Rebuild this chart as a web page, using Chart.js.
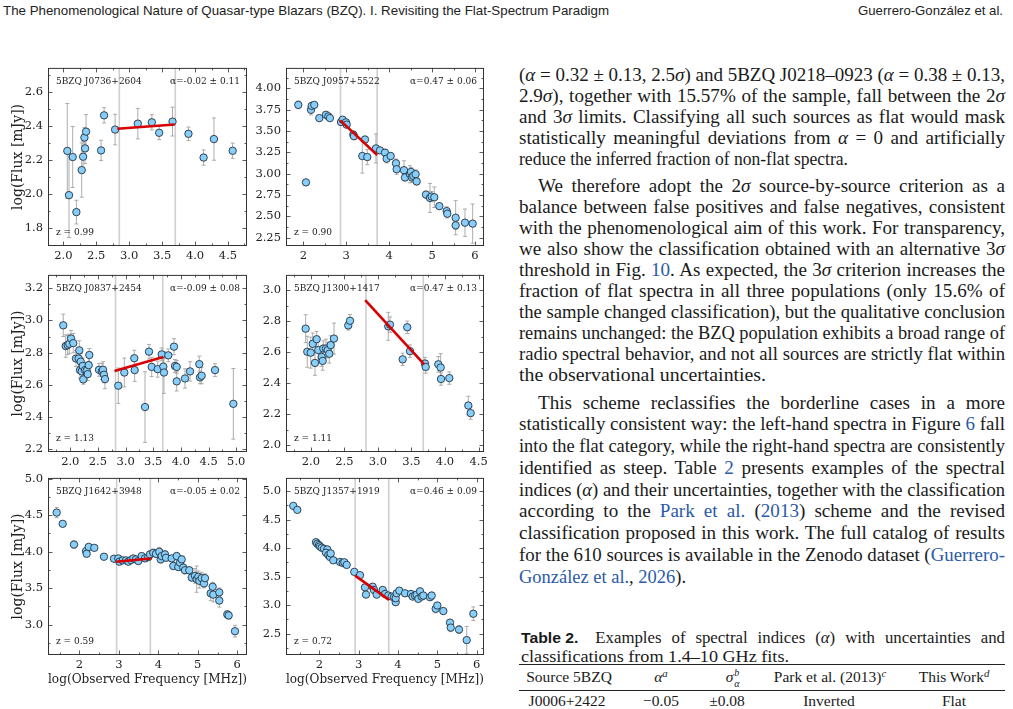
<!DOCTYPE html>
<html><head><meta charset="utf-8">
<script src="https://cdn.jsdelivr.net/npm/chart.js@4.4.1/dist/chart.umd.min.js"></script>
<style>
html,body{margin:0;padding:0;background:#fff;}
body{width:1013px;height:709px;position:relative;overflow:hidden;}
canvas{position:absolute;}
.hdr{position:absolute;font-family:"Liberation Sans",Arial,sans-serif;font-size:13px;color:#222;white-space:nowrap;line-height:16px;}
.tx{position:absolute;font-family:"Liberation Serif",serif;font-size:18px;color:#1a1a1a;white-space:nowrap;line-height:21px;}
.lk{color:#2a5aa8;}
.tb{position:absolute;font-family:"Liberation Serif",serif;font-size:15.5px;color:#1a1a1a;white-space:nowrap;line-height:18px;transform:translateX(-50%);}
.rule{position:absolute;left:519px;width:486px;background:#222;}
sup{font-size:70%;line-height:0;vertical-align:0.5em;}
.sans{font-family:"Liberation Sans",Arial,sans-serif;font-weight:bold;font-size:15px;word-spacing:0;}
</style></head><body>

<div class="hdr" data-w="606" style="left:3px;top:3px;">The Phenomenological Nature of Quasar-type Blazars (BZQ). I. Revisiting the Flat-Spectrum Paradigm</div>
<div class="hdr" data-w="145" style="left:858px;top:3px;">Guerrero-González et al.</div>

<canvas id="c1"></canvas><canvas id="c2"></canvas>
<canvas id="c3"></canvas><canvas id="c4"></canvas>
<canvas id="c5"></canvas><canvas id="c6"></canvas>

<div class="tx" data-w="486" data-j="1" data-s="1.06" style="left:519px;top:64.5px;">(<i>α</i> = 0.32 ± 0.13, 2.5<i>σ</i>) and 5BZQ J0218–0923 (<i>α</i> = 0.38 ± 0.13,</div>
<div class="tx" data-w="486" data-j="1" data-s="1.06" style="left:519px;top:85.5px;">2.9<i>σ</i>), together with 15.57% of the sample, fall between the 2<i>σ</i></div>
<div class="tx" data-w="486" data-j="1" data-s="1.06" style="left:519px;top:106.5px;">and 3<i>σ</i> limits. Classifying all such sources as flat would mask</div>
<div class="tx" data-w="486" data-j="1" data-s="1.06" style="left:519px;top:127.5px;">statistically meaningful deviations from <i>α</i> = 0 and artificially</div>
<div class="tx" data-w="329" style="left:519px;top:148.5px;">reduce the inferred fraction of non-flat spectra.</div>

<div class="tx" data-w="467" data-j="1" data-s="1.06" style="left:538px;top:175.5px;">We therefore adopt the 2<i>σ</i> source-by-source criterion as a</div>
<div class="tx" data-w="486" data-j="1" data-s="1.06" style="left:519px;top:196.5px;">balance between false positives and false negatives, consistent</div>
<div class="tx" data-w="486" data-j="1" data-s="1.06" style="left:519px;top:217.5px;">with the phenomenological aim of this work. For transparency,</div>
<div class="tx" data-w="486" data-j="1" data-s="1.06" style="left:519px;top:238.5px;">we also show the classification obtained with an alternative 3<i>σ</i></div>
<div class="tx" data-w="486" data-j="1" data-s="1.06" style="left:519px;top:259.5px;">threshold in Fig. <span class="lk">10</span>. As expected, the 3<i>σ</i> criterion increases the</div>
<div class="tx" data-w="486" data-j="1" data-s="1.06" style="left:519px;top:280.5px;">fraction of flat spectra in all three populations (only 15.6% of</div>
<div class="tx" data-w="486" data-j="1" data-s="1.06" style="left:519px;top:301.5px;">the sample changed classification), but the qualitative conclusion</div>
<div class="tx" data-w="486" data-j="1" data-s="1.06" style="left:519px;top:322.5px;">remains unchanged: the BZQ population exhibits a broad range of</div>
<div class="tx" data-w="486" data-j="1" data-s="1.06" style="left:519px;top:343.5px;">radio spectral behavior, and not all sources are strictly flat within</div>
<div class="tx" data-w="247" style="left:519px;top:364.5px;">the observational uncertainties.</div>

<div class="tx" data-w="467" data-j="1" data-s="1.06" style="left:538px;top:392.5px;">This scheme reclassifies the borderline cases in a more</div>
<div class="tx" data-w="486" data-j="1" data-s="1.06" style="left:519px;top:414.25px;">statistically consistent way: the left-hand spectra in Figure <span class="lk">6</span> fall</div>
<div class="tx" data-w="486" data-j="1" data-s="1.06" style="left:519px;top:436px;">into the flat category, while the right-hand spectra are consistently</div>
<div class="tx" data-w="486" data-j="1" data-s="1.06" style="left:519px;top:457.75px;">identified as steep. Table <span class="lk">2</span> presents examples of the spectral</div>
<div class="tx" data-w="486" data-j="1" data-s="1.06" style="left:519px;top:479.5px;">indices (<i>α</i>) and their uncertainties, together with the classification</div>
<div class="tx" data-w="486" data-j="1" data-s="1.06" style="left:519px;top:501.25px;">according to the <span class="lk">Park et al.</span> (<span class="lk">2013</span>) scheme and the revised</div>
<div class="tx" data-w="486" data-j="1" data-s="1.06" style="left:519px;top:523px;">classification proposed in this work. The full catalog of results</div>
<div class="tx" data-w="486" data-j="1" data-s="1.06" style="left:519px;top:544.75px;">for the 610 sources is available in the Zenodo dataset (<span class="lk">Guerrero-</span></div>
<div class="tx" data-w="167" style="left:519px;top:566.5px;"><span class="lk">González et al.</span>, <span class="lk">2026</span>).</div>

<div class="tx" data-w="484" data-j="1" data-s="1.05" style="left:521px;top:627px;font-size:16px;"><span class="sans">Table 2.</span><span style="display:inline-block;width:16px;"></span>Examples of spectral indices (<i>α</i>) with uncertainties and</div>
<div class="tx" data-w="268" style="left:521px;top:646px;font-size:16px;">classifications from 1.4–10 GHz fits.</div>
<div class="rule" style="top:664px;height:1.3px;"></div>
<div class="tb" style="left:569px;top:668px;">Source 5BZQ</div>
<div class="tb" style="left:661px;top:668px;"><i>α</i><sup><i>a</i></sup></div>
<div class="tb" style="left:733px;top:668px;"><i>σ</i><span style="display:inline-block;position:relative;width:7px;height:10px;"><i style="position:absolute;left:1px;top:-8px;font-size:10px;">b</i><i style="position:absolute;left:1px;top:3px;font-size:10px;">α</i></span></div>
<div class="tb" style="left:830px;top:668px;">Park et al. (2013)<sup><i>c</i></sup></div>
<div class="tb" style="left:954px;top:668px;">This Work<sup><i>d</i></sup></div>
<div class="rule" style="top:689.5px;height:1px;"></div>
<div class="tb" style="left:567px;top:692px;">J0006+2422</div>
<div class="tb" style="left:661px;top:692px;">−0.05</div>
<div class="tb" style="left:727px;top:692px;">±0.08</div>
<div class="tb" style="left:829px;top:692px;">Inverted</div>
<div class="tb" style="left:954px;top:692px;">Flat</div>

<script>
// ---------------- DATA ----------------
// Panel 1: 5BZQ J0736+2604
const freq1 = [2.06, 2.086, 2.142, 2.198, 2.279, 2.30, 2.32, 2.33, 2.345, 2.573, 2.619, 2.786, 3.131, 3.344, 3.455, 3.658, 3.90, 4.13, 4.287, 4.571];
const flux1 = [2.254, 1.993, 2.218, 1.893, 2.141, 2.22, 2.333, 2.269, 2.368, 2.257, 2.464, 2.38, 2.415, 2.423, 2.361, 2.427, 2.355, 2.215, 2.324, 2.255];
const err1  = [0.28, 0.25, 0.18, 0.07, 0.16, 0.09, 0.06, 0.09, 0.10, 0.06, 0.045, 0.09, 0.09, 0.045, 0.04, 0.085, 0.04, 0.045, 0.125, 0.045];
const fitX1 = [2.82, 3.69], fitY1 = [2.385, 2.41];
const band1 = [2.85, 3.70];

// Panel 2: 5BZQ J0957+5522
const freq2 = [1.883, 2.062, 2.179, 2.194, 2.256, 2.373, 2.528, 2.583, 2.62, 2.878, 2.917, 2.994, 3.01, 3.165, 3.18, 3.437, 3.375, 3.491, 3.693, 3.786, 3.903, 3.942, 4.035, 4.159, 4.175, 4.346, 4.369, 4.485, 4.509, 4.532, 4.563, 4.617, 4.641, 4.858, 4.951, 4.99, 5.052, 5.169, 5.34, 5.355, 5.55, 5.55, 5.767, 5.946];
const flux2 = [3.807, 2.899, 3.749, 3.795, 3.807, 3.652, 3.691, 3.672, 3.652, 3.606, 3.633, 3.602, 3.575, 3.459, 3.44, 3.401, 3.208, 3.196, 3.297, 3.274, 3.247, 3.177, 3.208, 3.123, 3.053, 3.042, 2.957, 2.995, 3.022, 2.957, 2.976, 2.995, 2.91, 2.756, 2.717, 2.733, 2.725, 2.621, 2.563, 2.532, 2.485, 2.396, 2.427, 2.416];
const err2  = [0.045, 0.035, 0.06, 0.03, 0.03, 0.03, 0.03, 0.03, 0.03, 0.03, 0.03, 0.03, 0.03, 0.04, 0.04, 0.04, 0.2, 0.09, 0.17, 0.03, 0.04, 0.05, 0.04, 0.05, 0.06, 0.11, 0.04, 0.1, 0.05, 0.06, 0.06, 0.05, 0.04, 0.04, 0.17, 0.06, 0.12, 0.03, 0.05, 0.05, 0.2, 0.05, 0.16, 0.23];
const fitX2 = [2.86, 3.72], fitY2 = [3.625, 3.22];
const band2 = [2.867, 3.721];

// Panel 3: 5BZQ J0837+2454
const freq3 = [1.873, 1.917, 1.953, 1.982, 2.013, 2.054, 2.103, 2.152, 2.163, 2.175, 2.188, 2.206, 2.224, 2.235, 2.266, 2.297, 2.315, 2.333, 2.344, 2.519, 2.573, 2.591, 2.609, 2.627, 2.868, 2.977, 3.164, 3.157, 3.351, 3.423, 3.472, 3.58, 3.653, 3.682, 3.694, 3.772, 3.875, 3.893, 3.924, 3.924, 4.074, 4.165, 4.333, 4.345, 4.375, 4.617, 4.948];
const flux3 = [2.97, 2.841, 2.847, 2.855, 2.888, 2.859, 2.763, 2.763, 2.814, 2.691, 2.744, 2.683, 2.717, 2.633, 2.691, 2.687, 2.666, 2.722, 2.785, 2.693, 2.683, 2.693, 2.662, 2.635, 2.594, 2.676, 2.691, 2.765, 2.461, 2.806, 2.711, 2.697, 2.789, 2.713, 2.676, 2.783, 2.837, 2.717, 2.711, 2.621, 2.639, 2.683, 2.728, 2.646, 2.656, 2.691, 2.481];
const err3  = [0.07, 0.07, 0.06, 0.06, 0.05, 0.06, 0.05, 0.05, 0.06, 0.05, 0.05, 0.05, 0.05, 0.03, 0.05, 0.04, 0.04, 0.05, 0.04, 0.04, 0.05, 0.05, 0.05, 0.06, 0.11, 0.09, 0.07, 0.05, 0.22, 0.045, 0.06, 0.05, 0.04, 0.05, 0.13, 0.04, 0.05, 0.04, 0.04, 0.06, 0.06, 0.06, 0.05, 0.04, 0.05, 0.04, 0.22];
const fitX3 = [2.80, 3.68], fitY3 = [2.686, 2.772];
const band3 = [2.818, 3.672];

// Panel 4: 5BZQ J1300+1417
const freq4 = [1.923, 1.947, 1.998, 2.028, 2.062, 2.087, 2.111, 2.162, 2.177, 2.186, 2.226, 2.251, 2.275, 2.296, 2.345, 2.558, 2.584, 3.154, 3.18, 3.369, 3.437, 3.478, 3.701, 3.712, 3.9, 3.935, 3.94, 4.064, 4.347, 4.382];
const flux4 = [2.751, 2.602, 2.596, 2.653, 2.53, 2.683, 2.613, 2.568, 2.543, 2.623, 2.623, 2.613, 2.589, 2.645, 2.687, 2.772, 2.802, 2.766, 2.777, 2.553, 2.76, 2.606, 2.526, 2.504, 2.521, 2.5, 2.426, 2.432, 2.255, 2.206];
const err4  = [0.09, 0.1, 0.1, 0.07, 0.08, 0.05, 0.07, 0.06, 0.06, 0.05, 0.06, 0.05, 0.06, 0.06, 0.1, 0.03, 0.04, 0.09, 0.05, 0.04, 0.04, 0.04, 0.04, 0.04, 0.05, 0.09, 0.04, 0.04, 0.06, 0.04];
const fitX4 = [2.81, 3.69], fitY4 = [2.935, 2.52];
const band4 = [2.822, 3.676];

// Panel 5: 5BZQ J1642+3948
const freq5 = [1.428, 1.58, 1.866, 2.17, 2.187, 2.238, 2.38, 2.625, 2.878, 2.987, 3.013, 3.099, 3.182, 3.241, 3.309, 3.367, 3.435, 3.494, 3.58, 3.663, 3.747, 3.79, 3.873, 3.942, 4.025, 4.06, 4.086, 4.17, 4.195, 4.339, 4.38, 4.466, 4.506, 4.549, 4.592, 4.633, 4.676, 4.785, 4.846, 4.929, 4.972, 5.013, 5.038, 5.099, 5.157, 5.182, 5.327, 5.377, 5.392, 5.544, 5.544, 5.747, 5.782, 5.942];
const flux5 = [4.535, 4.381, 4.097, 4.007, 3.971, 4.065, 4.052, 3.93, 3.903, 3.907, 3.862, 3.88, 3.88, 3.862, 3.885, 3.907, 3.894, 3.871, 3.939, 3.907, 3.925, 3.962, 3.984, 3.97, 3.998, 3.894, 3.939, 3.962, 3.916, 3.907, 3.804, 3.939, 3.79, 3.849, 3.894, 3.781, 3.745, 3.745, 3.646, 3.668, 3.623, 3.655, 3.6, 3.637, 3.564, 3.637, 3.429, 3.519, 3.411, 3.442, 3.33, 3.14, 3.126, 2.91];
const err5  = [0.07, 0.03, 0.05, 0.04, 0.04, 0.03, 0.03, 0.03, 0.03, 0.04, 0.03, 0.03, 0.03, 0.03, 0.04, 0.04, 0.03, 0.03, 0.04, 0.04, 0.04, 0.05, 0.05, 0.04, 0.06, 0.05, 0.05, 0.05, 0.04, 0.04, 0.05, 0.05, 0.05, 0.05, 0.05, 0.05, 0.05, 0.04, 0.05, 0.1, 0.18, 0.08, 0.1, 0.08, 0.06, 0.06, 0.1, 0.06, 0.1, 0.06, 0.09, 0.05, 0.05, 0.08];
const fitX5 = [2.93, 3.82], fitY5 = [3.862, 3.905];
const band5 = [2.945, 3.80];

// Panel 6: 5BZQ J1357+1919
const freq6 = [1.339, 1.441, 1.916, 1.949, 1.992, 2.018, 2.061, 2.119, 2.203, 2.17, 2.229, 2.272, 2.29, 2.356, 2.526, 2.594, 2.636, 2.696, 2.889, 3.034, 3.161, 3.187, 3.356, 3.39, 3.458, 3.611, 3.67, 3.753, 3.84, 3.898, 3.941, 3.941, 3.966, 4.033, 4.178, 4.33, 4.373, 4.432, 4.475, 4.516, 4.559, 4.602, 4.643, 4.813, 4.856, 4.958, 4.999, 5.151, 5.321, 5.339, 5.55, 5.746, 5.914];
const flux6 = [4.74, 4.67, 4.103, 4.074, 4.051, 4.028, 4.005, 3.987, 3.976, 3.918, 3.877, 3.843, 3.906, 3.785, 3.756, 3.738, 3.75, 3.704, 3.582, 3.524, 3.31, 3.183, 3.322, 3.264, 3.183, 3.264, 3.194, 3.166, 3.148, 3.137, 3.05, 3.119, 3.206, 3.252, 3.206, 3.194, 3.148, 3.166, 3.183, 3.108, 3.241, 3.148, 3.166, 3.137, 3.166, 2.934, 2.992, 2.894, 2.691, 2.604, 2.569, 2.384, 2.847];
const err6  = [0.03, 0.03, 0.02, 0.02, 0.02, 0.02, 0.02, 0.02, 0.02, 0.02, 0.02, 0.02, 0.02, 0.02, 0.02, 0.02, 0.02, 0.02, 0.02, 0.02, 0.04, 0.03, 0.03, 0.04, 0.03, 0.03, 0.03, 0.03, 0.03, 0.03, 0.03, 0.03, 0.03, 0.03, 0.03, 0.04, 0.04, 0.03, 0.04, 0.04, 0.03, 0.04, 0.03, 0.03, 0.06, 0.07, 0.05, 0.04, 0.05, 0.07, 0.07, 0.24, 0.12];
const fitX6 = [2.91, 3.77], fitY6 = [3.515, 3.09];
const band6 = [2.911, 3.765];

// Tick labels
const xTicks1 = ['2.0','2.5','3.0','3.5','4.0','4.5'], yTicks1 = ['1.8','2.0','2.2','2.4','2.6'];
const xTicks2 = ['2','3','4','5','6'], yTicks2 = ['2.25','2.50','2.75','3.00','3.25','3.50','3.75','4.00'];
const xTicks3 = ['2.0','2.5','3.0','3.5','4.0','4.5','5.0'], yTicks3 = ['2.2','2.4','2.6','2.8','3.0','3.2'];
const xTicks4 = ['2.0','2.5','3.0','3.5','4.0','4.5'], yTicks4 = ['2.0','2.2','2.4','2.6','2.8','3.0'];
const xTicks5 = ['2','3','4','5','6'], yTicks5 = ['3.0','3.5','4.0','4.5','5.0'];
const xTicks6 = ['2','3','4','5','6'], yTicks6 = ['2.5','3.0','3.5','4.0','4.5','5.0'];

// Labels
const sourceNames = ['5BZQ J0736+2604','5BZQ J0957+5522','5BZQ J0837+2454','5BZQ J1300+1417','5BZQ J1642+3948','5BZQ J1357+1919'];
const alphaLabels = ['α=-0.02 ± 0.11','α=0.47 ± 0.06','α=-0.09 ± 0.08','α=0.47 ± 0.13','α=-0.05 ± 0.02','α=0.46 ± 0.09'];
const zLabels = ['z = 0.99','z = 0.90','z = 1.13','z = 1.11','z = 0.59','z = 0.72'];
const yTitle = 'log(Flux [mJy])';
const xTitle = 'log(Observed Frequency [MHz])';

// ---------------- LAYOUT ----------------
const COLS = [{left:48, right:247, cx:0}, {left:286, right:484, cx:250}];
const ROWS = [{top:66, bottom:246}, {top:273, bottom:452}, {top:476, bottom:655}];
const panels = [
  {id:'c1', col:0, row:0, xs:freq1, ys:flux1, es:err1, fx:fitX1, fy:fitY1, band:band1, xr:[1.767,4.789], yr:[1.693,2.744], xl:xTicks1, yl:yTicks1},
  {id:'c2', col:1, row:0, xs:freq2, ys:flux2, es:err2, fx:fitX2, fy:fitY2, band:band2, xr:[1.597,6.21], yr:[2.154,4.24], xl:xTicks2, yl:yTicks2},
  {id:'c3', col:0, row:1, xs:freq3, ys:flux3, es:err3, fx:fitX3, fy:fitY3, band:band3, xr:[1.597,5.195], yr:[2.181,3.284], xl:xTicks3, yl:yTicks3},
  {id:'c4', col:1, row:1, xs:freq4, ys:flux4, es:err4, fx:fitX4, fy:fitY4, band:band4, xr:[1.63,4.581], yr:[1.955,3.098], xl:xTicks4, yl:yTicks4},
  {id:'c5', col:0, row:2, xs:freq5, ys:flux5, es:err5, fx:fitX5, fy:fitY5, band:band5, xr:[1.208,6.246], yr:[2.584,5.01], xl:xTicks5, yl:yTicks5},
  {id:'c6', col:1, row:2, xs:freq6, ys:flux6, es:err6, fx:fitX6, fy:fitY6, band:band6, xr:[1.154,6.185], yr:[2.123,5.231], xl:xTicks6, yl:yTicks6},
];

Chart.defaults.font.family = '"DejaVu Serif", serif';
Chart.defaults.color = '#222';

function makePlugin(p, idx){
  return {
    id:'deco'+idx,
    beforeDatasetsDraw(chart){
      const {ctx, chartArea:a, scales:{x, y}} = chart;
      ctx.save();
      ctx.beginPath(); ctx.rect(a.left, a.top, a.width, a.height); ctx.clip();
      ctx.strokeStyle = '#cfcfcf'; ctx.lineWidth = 1.6;
      p.band.forEach(v => { const px = x.getPixelForValue(v); ctx.beginPath(); ctx.moveTo(px, a.top); ctx.lineTo(px, a.bottom); ctx.stroke(); });
      ctx.strokeStyle = '#a4a4a4'; ctx.lineWidth = 0.9;
      p.xs.forEach((xv, i) => {
        const px = x.getPixelForValue(xv);
        const y1 = y.getPixelForValue(p.ys[i] - p.es[i]);
        const y2 = y.getPixelForValue(p.ys[i] + p.es[i]);
        ctx.beginPath();
        ctx.moveTo(px, y1); ctx.lineTo(px, y2);
        ctx.moveTo(px - 2, y1); ctx.lineTo(px + 2, y1);
        ctx.moveTo(px - 2, y2); ctx.lineTo(px + 2, y2);
        ctx.stroke();
      });
      ctx.restore();
    },
    afterDatasetsDraw(chart){
      const {ctx, chartArea:a, scales:{x, y}} = chart;
      ctx.save();
      ctx.strokeStyle = '#333'; ctx.lineWidth = 1;
      ctx.strokeRect(a.left + 0.5, a.top + 0.5, a.width - 1, a.height - 1);
      ctx.lineWidth = 0.8;
      const xv = p.xl.map(Number), yv = p.yl.map(Number);
      const sx = (xv[1] - xv[0]) / 2, sy = (yv[1] - yv[0]) / 2;
      for (let k = Math.ceil(x.min / sx - 1e-6); k * sx <= x.max + 1e-9; k++) {
        const v = k * sx, maj = xv.some(m => Math.abs(m - v) < 1e-6), L = maj ? 4.5 : 2.5;
        const px = Math.round(x.getPixelForValue(v)) + 0.5;
        ctx.beginPath(); ctx.moveTo(px, a.bottom); ctx.lineTo(px, a.bottom - L);
        ctx.moveTo(px, a.top); ctx.lineTo(px, a.top + L); ctx.stroke();
      }
      for (let k = Math.ceil(y.min / sy - 1e-6); k * sy <= y.max + 1e-9; k++) {
        const v = k * sy, maj = yv.some(m => Math.abs(m - v) < 1e-6), L = maj ? 4.5 : 2.5;
        const py = Math.round(y.getPixelForValue(v)) + 0.5;
        ctx.beginPath(); ctx.moveTo(a.left, py); ctx.lineTo(a.left + L, py);
        ctx.moveTo(a.right, py); ctx.lineTo(a.right - L, py); ctx.stroke();
      }
      ctx.fillStyle = '#222';
      ctx.font = '9px "DejaVu Serif", serif';
      ctx.textBaseline = 'middle';
      ctx.textAlign = 'left';
      ctx.fillText(sourceNames[idx], a.left + 8, a.top + 13.5);
      ctx.fillText(zLabels[idx], a.left + 8, a.bottom - 13);
      ctx.textAlign = 'right';
      ctx.fillText(alphaLabels[idx], a.right - 7, a.top + 13.5);
      ctx.restore();
    }
  };
}

panels.forEach((p, idx) => {
  const col = COLS[p.col], row = ROWS[p.row];
  const T = 10, R = 10, B = p.row === 2 ? 45 : 30;
  const L = col.left - col.cx;
  const W = L + (col.right - col.left) + R;
  const H = T + (row.bottom - row.top) + B;
  const cv = document.getElementById(p.id);
  cv.width = W; cv.height = H;
  cv.style.width = W + 'px'; cv.style.height = H + 'px';
  cv.style.left = col.cx + 'px'; cv.style.top = (row.top - T) + 'px';
  const pts = p.xs.map((v, i) => ({x: v, y: p.ys[i]}));
  const fit = p.fx.map((v, i) => ({x: v, y: p.fy[i]}));
  new Chart(cv, {
    type: 'scatter',
    data: {datasets: [
      {data: fit, showLine: true, borderColor: '#d80000', borderWidth: 2.6, pointRadius: 0, order: 0},
      {data: pts, pointRadius: 3.7, pointBorderWidth: 0.9, pointBorderColor: '#24323f', pointBackgroundColor: '#87cefa', order: 1}
    ]},
    options: {
      responsive: false, animation: false, devicePixelRatio: 1,
      layout: {padding: {left: 0, top: T, right: R, bottom: 0}},
      plugins: {legend: {display: false}, tooltip: {enabled: false}},
      scales: {
        x: {
          type: 'linear', position: 'bottom', min: p.xr[0], max: p.xr[1],
          grid: {display: false, drawTicks: false}, border: {display: false},
          ticks: {autoSkip: false, maxRotation: 0, padding: 3, font: {size: 11.5}, color: '#222', callback: (v, i) => p.xl[i]},
          afterBuildTicks: s => { s.ticks = p.xl.map(t => ({value: Number(t)})); },
          afterFit: s => { s.height = B; },
          title: {display: p.row === 2, text: xTitle, font: {size: 12.8}, color: '#222', padding: {top: 0, bottom: 13}}
        },
        y: {
          type: 'linear', position: 'left', min: p.yr[0], max: p.yr[1],
          grid: {display: false, drawTicks: false}, border: {display: false},
          ticks: {autoSkip: false, padding: 5, font: {size: 11.5}, color: '#222', callback: (v, i) => p.yl[i]},
          afterBuildTicks: s => { s.ticks = p.yl.map(t => ({value: Number(t)})); },
          afterFit: s => { s.width = L; },
          title: {display: p.col === 0, text: yTitle, font: {size: 14}, color: '#222', padding: {top: 10, bottom: 0}}
        }
      }
    },
    plugins: [makePlugin(p, idx)]
  });
});

// ---------------- text fitting ----------------
function fitText(){
  document.querySelectorAll('[data-w]').forEach(el => {
    el.style.wordSpacing = ''; el.style.transform = ''; el.style.transformOrigin = '0 0';
    const target = parseFloat(el.dataset.w);
    const s0 = el.dataset.s ? parseFloat(el.dataset.s) : 1;
    const nat = el.getBoundingClientRect().width;
    let txt = el.textContent;
    el.querySelectorAll('.sans').forEach(s => { txt = txt.replace(s.textContent, ''); });
    const spaces = (txt.match(/[ \u00a0]/g) || []).length;
    if (el.dataset.j === '1' && nat * s0 < target && spaces > 0) {
      el.style.wordSpacing = ((target / s0 - nat) / spaces) + 'px';
      el.style.transform = 'scaleX(' + s0 + ')';
    } else {
      el.style.transform = 'scaleX(' + (target / nat) + ')';
    }
  });
}
fitText();
if (document.fonts && document.fonts.ready) document.fonts.ready.then(fitText);
</script>
</body></html>
